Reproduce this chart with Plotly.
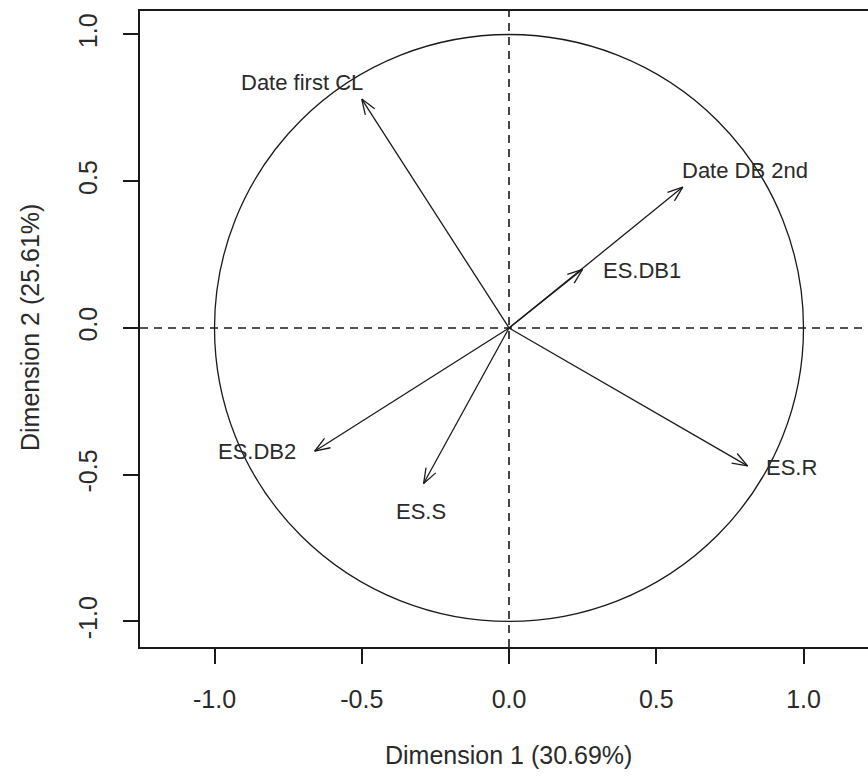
import numpy as np
import plotly.graph_objects as go

variables = ["Date first CL", "Date DB 2nd", "ES.DB1", "ES.R", "ES.DB2", "ES.S"]
dim1 = [-0.50, 0.59, 0.25, 0.81, -0.66, -0.29]
dim2 = [0.78, 0.48, 0.20, -0.47, -0.42, -0.53]
tick_vals = [-1.0, -0.5, 0.0, 0.5, 1.0]
tick_text = ["-1.0", "-0.5", "0.0", "0.5", "1.0"]
xlabel = "Dimension 1 (30.69%)"
ylabel = "Dimension 2 (25.61%)"

# label placement (layout only)
label_place = {
    "Date first CL": dict(xanchor="right", xshift=3, yshift=17),
    "Date DB 2nd": dict(xanchor="left", xshift=-3, yshift=17),
    "ES.DB1": dict(xanchor="left", xshift=18, yshift=-1),
    "ES.R": dict(xanchor="left", xshift=16, yshift=-2),
    "ES.DB2": dict(xanchor="right", xshift=-17, yshift=0),
    "ES.S": dict(xanchor="center", xshift=-3, yshift=-28),
}

W, H = 868, 780
ml, mr, mt, mb = 140, 0, 11, 133
xr = [-1.253, 1.219]
yr = [-1.087, 1.080]
FONT = "Liberation Sans, Arial, sans-serif"
INK = "#1a1a1a"
TXT = "#2a2a2a"

fig = go.Figure()

# arrow shafts
xs, ys = [], []
for x, y in zip(dim1, dim2):
    xs += [0, x, None]
    ys += [0, y, None]
fig.add_trace(go.Scatter(x=xs, y=ys, mode="lines",
                         line=dict(color=INK, width=1.3),
                         hoverinfo="skip", showlegend=False))

# open arrowheads
head_len = 0.055
ang = np.deg2rad(20)
hx, hy = [], []
for x, y in zip(dim1, dim2):
    th = np.arctan2(y, x)
    for s in (1, -1):
        a = th + np.pi + s * ang
        hx += [x + head_len * np.cos(a), x, None]
        hy += [y + head_len * np.sin(a), y, None]
fig.add_trace(go.Scatter(x=hx, y=hy, mode="lines",
                         line=dict(color=INK, width=1.3),
                         hoverinfo="skip", showlegend=False))

shapes = [
    dict(type="circle", xref="x", yref="y", x0=-1, y0=-1, x1=1, y1=1,
         line=dict(color=INK, width=1.3)),
    dict(type="line", xref="paper", yref="y", x0=0, x1=1, y0=0, y1=0,
         line=dict(color=INK, width=1.6, dash="8px,6px")),
    dict(type="line", xref="x", yref="paper", x0=0, x1=0, y0=0, y1=1,
         line=dict(color=INK, width=1.6, dash="8px,6px")),
]

annotations = []
for name, x, y in zip(variables, dim1, dim2):
    p = label_place[name]
    annotations.append(dict(x=x, y=y, xref="x", yref="y", text=name, showarrow=False,
                            xanchor=p["xanchor"], yanchor="middle",
                            xshift=p["xshift"], yshift=p["yshift"],
                            font=dict(family=FONT, size=22, color=TXT)))

pw, ph = W - ml - mr, H - mt - mb
annotations.append(dict(x=(508 - ml) / pw, y=(H - mb - 755) / ph, xref="paper", yref="paper",
                        text=xlabel, showarrow=False, xanchor="center", yanchor="middle",
                        font=dict(family=FONT, size=25, color=TXT)))
annotations.append(dict(x=(30 - ml) / pw, y=(H - mb - 328) / ph, xref="paper", yref="paper",
                        text=ylabel, showarrow=False, xanchor="center", yanchor="middle",
                        textangle=-90, font=dict(family=FONT, size=25, color=TXT)))

fig.update_layout(
    width=W, height=H,
    margin=dict(l=ml, r=mr, t=mt, b=mb, pad=0),
    paper_bgcolor="white", plot_bgcolor="white",
    shapes=shapes, annotations=annotations,
    xaxis=dict(range=xr, showgrid=False, zeroline=False, showline=True, mirror=True,
               linecolor=INK, linewidth=1.8, ticks="outside", ticklen=15, tickwidth=1.6,
               tickcolor=INK, tickvals=tick_vals, ticktext=tick_text,
               tickfont=dict(family=FONT, size=25, color=TXT), ticklabelstandoff=14),
    yaxis=dict(range=yr, showgrid=False, zeroline=False, showline=True, mirror=False,
               linecolor=INK, linewidth=1.8, ticks="outside", ticklen=15, tickwidth=1.6,
               tickcolor=INK, tickvals=tick_vals, ticktext=tick_text, tickangle=-90,
               tickfont=dict(family=FONT, size=25, color=TXT), ticklabelstandoff=16),
)

fig.write_html("out.html")
